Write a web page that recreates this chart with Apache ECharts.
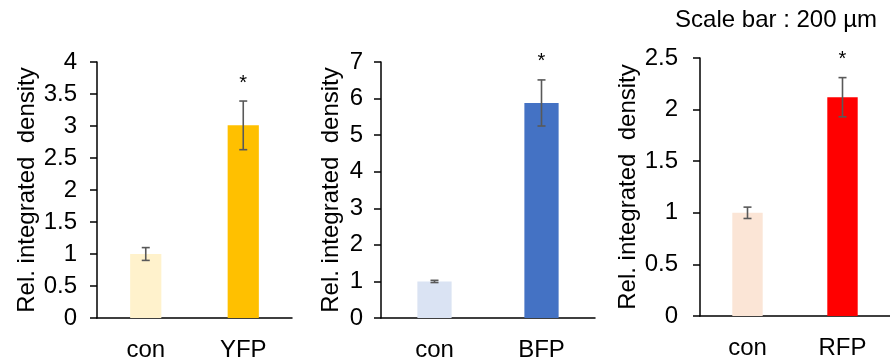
<!DOCTYPE html>
<html>
<head>
<meta charset="utf-8">
<script src="https://cdn.jsdelivr.net/npm/echarts@6/dist/echarts.min.js"></script>
<style>
  html, body { margin: 0; padding: 0; background: #fff; }
  #chart { width: 890px; height: 362px; }
</style>
</head>
<body>
<div id="chart"></div>
<script>
// panel data
const yfpCats = ["con", "YFP"];
const yfpMeans = [1.0, 3.01];
const yfpErr = [0.1, 0.38];
const yfpStars = ["", "*"];
const yfpColors = ["#FFF2CC", "#FFC000"];

const bfpCats = ["con", "BFP"];
const bfpMeans = [1.0, 5.88];
const bfpErr = [0.03, 0.63];
const bfpStars = ["", "*"];
const bfpColors = ["#DAE3F3", "#4472C4"];

const rfpCats = ["con", "RFP"];
const rfpMeans = [1.0, 2.12];
const rfpErr = [0.055, 0.19];
const rfpStars = ["", "*"];
const rfpColors = ["#FBE5D6", "#FF0000"];

const yTitle = "Rel. integrated  density";
const scaleText = "Scale bar : 200 µm";

const font = "Liberation Sans, Arial, sans-serif";

const chart = echarts.init(document.getElementById("chart"));

function errorRender(params, api) {
  const x = api.value(0);
  const lo = api.coord([x, api.value(1)]);
  const hi = api.coord([x, api.value(2)]);
  const cap = 4;
  const style = { stroke: "#595959", lineWidth: 1.6 };
  const children = [
    { type: "line", shape: { x1: lo[0], y1: lo[1], x2: hi[0], y2: hi[1] }, style: style },
    { type: "line", shape: { x1: hi[0] - cap, y1: hi[1], x2: hi[0] + cap, y2: hi[1] }, style: style },
    { type: "line", shape: { x1: lo[0] - cap, y1: lo[1], x2: lo[0] + cap, y2: lo[1] }, style: style },
  ];
  if (api.value(3)) {
    // significance mark above the upper cap
    children.push({
      type: "text",
      style: {
        text: "*", x: hi[0], y: hi[1] - 8, align: "center", verticalAlign: "bottom",
        fontSize: 20, fontFamily: font, fill: "#000",
      },
    });
  }
  return { type: "group", children: children };
}

function makeAxis(idx, cats) {
  return {
    type: "category",
    gridIndex: idx,
    data: cats,
    axisLine: { lineStyle: { color: "#000", width: 1.5 } },
    axisTick: { show: false },
    axisLabel: { color: "#000", fontSize: 24, fontFamily: font, margin: 20 },
  };
}

function makeY(idx, max, interval, margin, gap) {
  return {
    type: "value",
    gridIndex: idx,
    min: 0,
    max: max,
    interval: interval,
    name: yTitle,
    nameLocation: "middle",
    nameGap: gap,
    nameRotate: 90,
    nameTextStyle: { color: "#000", fontSize: 24, fontFamily: font },
    splitLine: { show: false },
    axisLine: { show: true, lineStyle: { color: "#000", width: 1.5 } },
    axisTick: { show: true, length: 7, lineStyle: { color: "#000", width: 1.5 } },
    axisLabel: { color: "#000", fontSize: 24, fontFamily: font, margin: margin },
  };
}

function barSeries(idx, means, colors) {
  return {
    type: "bar",
    xAxisIndex: idx,
    yAxisIndex: idx,
    barWidth: "32%",
    data: means.map((v, i) => ({ value: v, itemStyle: { color: colors[i] } })),
  };
}

function errSeries(idx, means, errs, stars) {
  return {
    type: "custom",
    xAxisIndex: idx,
    yAxisIndex: idx,
    renderItem: errorRender,
    encode: { x: 0, y: [1, 2] },
    data: means.map((v, i) => [i, v - errs[i], v + errs[i], stars[i] ? 1 : 0]),
    z: 10,
  };
}

const option = {
  animation: false,
  grid: [
    { left: 97, top: 62, width: 195, height: 257 },
    { left: 381, top: 62, width: 214, height: 257 },
    { left: 700, top: 58, width: 190, height: 258 },
  ],
  xAxis: [makeAxis(0, yfpCats), makeAxis(1, bfpCats), makeAxis(2, rfpCats)],
  yAxis: [makeY(0, 4, 0.5, 20, 58), makeY(1, 7, 1, 18, 38), makeY(2, 2.5, 0.5, 22, 59)],
  graphic: [
    {
      type: "text", right: 13, top: 8,
      style: { text: scaleText, fontSize: 24, fontFamily: font, fill: "#000" },
    },
  ],
  series: [
    barSeries(0, yfpMeans, yfpColors),
    errSeries(0, yfpMeans, yfpErr, yfpStars),
    barSeries(1, bfpMeans, bfpColors),
    errSeries(1, bfpMeans, bfpErr, bfpStars),
    barSeries(2, rfpMeans, rfpColors),
    errSeries(2, rfpMeans, rfpErr, rfpStars),
  ],
};

chart.setOption(option);
</script>
</body>
</html>
